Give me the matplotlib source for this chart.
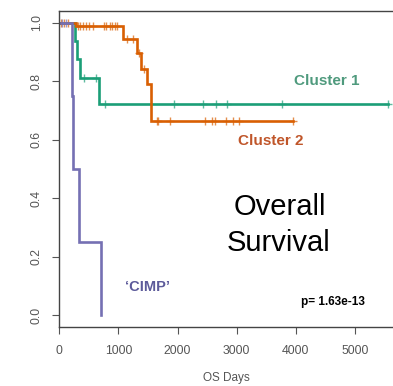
import matplotlib
matplotlib.use("Agg")
import matplotlib.pyplot as plt

plt.rcParams['font.family'] = ['Liberation Sans', 'DejaVu Sans']

# step curves: time at which the level starts, survival level
c1_t = [0, 270, 304, 350, 666, 5558]
c1_s = [1.0, 0.9375, 0.875, 0.8125, 0.722, 0.722]
c1_cens_t = [418, 615, 778, 1940, 2435, 2645, 2841, 3760, 5558]
c1_cens_s = [0.8125, 0.8125, 0.722, 0.722, 0.722, 0.722, 0.722, 0.722, 0.722]

c2_t = [0, 282, 1082, 1314, 1381, 1478, 1551, 3946]
c2_s = [1.0, 0.988, 0.943, 0.895, 0.841, 0.789, 0.664, 0.664]
c2_cens_t = [29, 80, 147, 311, 350, 396, 451, 507, 565, 756, 785, 857, 896, 942, 981,
             1140, 1241, 1353, 1440,
             1647, 1674, 1872, 2464, 2577, 2633, 2813, 2942, 3038, 3946]
c2_cens_s = [1.0, 1.0, 1.0] + [0.988] * 12 + [0.943, 0.943, 0.895, 0.841] + [0.664] * 10

cimp_t = [0, 210, 237, 338, 700]
cimp_s = [1.0, 0.75, 0.5, 0.25, 0.0]
cimp_cens_t = [50, 110]
cimp_cens_s = [1.0, 1.0]

green = '#1b9e77'
orange = '#d95f02'
purple = '#7570b3'

fig = plt.figure(figsize=(3.93, 3.86), dpi=100)
ax = fig.add_axes([59.3 / 393, 1 - 327 / 386, (393 - 59.3) / 393, (327 - 11) / 386])

for t, s, ct, cs, col in [(c1_t, c1_s, c1_cens_t, c1_cens_s, green),
                          (c2_t, c2_s, c2_cens_t, c2_cens_s, orange),
                          (cimp_t, cimp_s, cimp_cens_t, cimp_cens_s, purple)]:
    ax.step(t, s, where='post', color=col, lw=1.9, solid_joinstyle='miter')
    ax.plot(ct, cs, '+', color=col, ms=6, mew=1.0, alpha=0.7)

ax.set_xlim(0, (393 - 59.3) / 0.05914)
ax.set_ylim(-0.041, 1.04)
ax.set_xticks([0, 1000, 2000, 3000, 4000, 5000])
ax.set_yticks([0.0, 0.2, 0.4, 0.6, 0.8, 1.0])
ax.set_yticklabels(['0.0', '0.2', '0.4', '0.6', '0.8', '1.0'], rotation=90, va='center')
ax.tick_params(direction='out', length=5, width=0.8, color='#555555',
               labelcolor='#555555', labelsize=8.8, pad=8)
ax.tick_params(axis='y', pad=7)
ax.spines['right'].set_visible(False)
for sp in ['left', 'top', 'bottom']:
    ax.spines[sp].set_color('#444444')
    ax.spines[sp].set_linewidth(1.0)

fig.text(226 / 393, 1 - 378 / 386, 'OS Days', ha='center', va='center',
         fontsize=8.5, color='#555555')

ax.text(4518, 0.80, 'Cluster 1', color='#4f9a7d', fontsize=11, fontweight='bold',
        ha='center', va='center')
ax.text(3571, 0.595, 'Cluster 2', color='#c0562a', fontsize=11, fontweight='bold',
        ha='center', va='center')
ax.text(1491, 0.096, '\u2018CIMP\u2019', color='#5c5a9a', fontsize=10.5, fontweight='bold',
        ha='center', va='center')
ax.text(4620, 0.044, 'p= 1.63e-13', color='black', fontsize=8.5, fontweight='bold',
        ha='center', va='center')
ax.text(3732, 0.369, 'Overall', color='black', fontsize=21, ha='center', va='center')
ax.text(3700, 0.246, 'Survival', color='black', fontsize=21, ha='center', va='center')

fig.savefig('out.png', dpi=100)
